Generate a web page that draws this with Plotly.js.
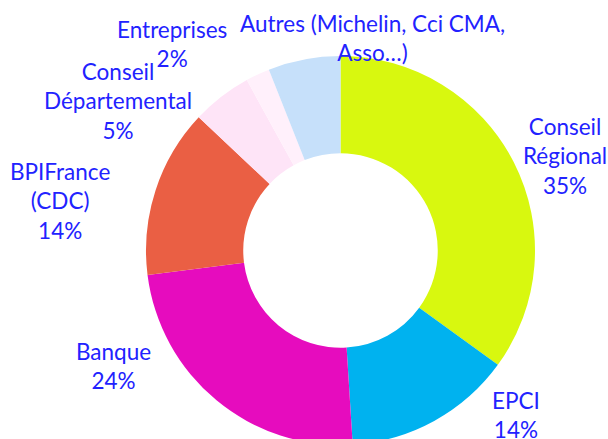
<!DOCTYPE html>
<html>
<head>
<meta charset="utf-8">
<script src="https://cdn.plot.ly/plotly-3.0.1.min.js"></script>
<style>
  html, body { margin: 0; padding: 0; overflow: hidden; background: #fff; }
</style>
</head>
<body>
<div id="myDiv1"></div>
<script>
// parts du financement, dans le sens des aiguilles d'une montre depuis midi
var categories = ['Conseil Régional', 'EPCI', 'Banque', 'BPIFrance (CDC)',
                  'Conseil Départemental', 'Entreprises', 'Autres (Michelin, Cci CMA, Asso…)'];
var labelLines = ['Conseil<br>Régional', 'EPCI', 'Banque', 'BPIFrance<br>(CDC)',
                  'Conseil<br>Départemental', 'Entreprises', 'Autres (Michelin, Cci CMA,<br>Asso…)'];
var values = [35, 14, 24, 14, 5, 2, 6];
var showPercent = [true, true, true, true, true, true, false];
var colors = ['#d8f80f', '#00b2ef', '#e60cbe', '#ea5f44', '#fee4f7', '#fff0fb', '#c6e0fa'];

// centre des étiquettes, en pixels de la page (placées à la main comme dans Excel)
var labelPos = [[565, 156], [516, 415], [113, 366], [60, 201], [118, 101], [172, 44], [372, 38]];

var W = 608, H = 445;
var margin = { l: 146, r: 73, t: 56, b: 0 };
var plotW = W - margin.l - margin.r;
var plotH = H - margin.t - margin.b;

var total = values.reduce(function (a, b) { return a + b; }, 0);
var annotations = [];
for (var i = 0; i < categories.length; i++) {
    var t = labelLines[i];
    if (showPercent[i]) {
        t += '<br>' + Math.round(values[i] / total * 100) + '%';
    }
    annotations.push({
        text: t,
        xref: 'paper',
        yref: 'paper',
        x: (labelPos[i][0] - margin.l) / plotW,
        y: (H - margin.b - labelPos[i][1]) / plotH,
        xanchor: 'center',
        yanchor: 'middle',
        align: 'center',
        showarrow: false,
        font: { family: 'Lato, sans-serif', size: 22.5, color: '#2222ff' }
    });
}

var trace1 = {
    type: 'pie',
    labels: categories,
    values: values,
    textinfo: 'none',
    hole: 0.5,
    sort: false,
    direction: 'clockwise',
    rotation: 0,
    marker: { colors: colors, line: { width: 0 } },
    hoverinfo: 'none',
    showlegend: false
};

var layout1 = {
    width: W,
    height: H,
    margin: margin,
    paper_bgcolor: '#ffffff',
    showlegend: false,
    annotations: annotations
};

Plotly.newPlot('myDiv1', [trace1], layout1, { displayModeBar: false, staticPlot: true });
</script>
</body>
</html>
